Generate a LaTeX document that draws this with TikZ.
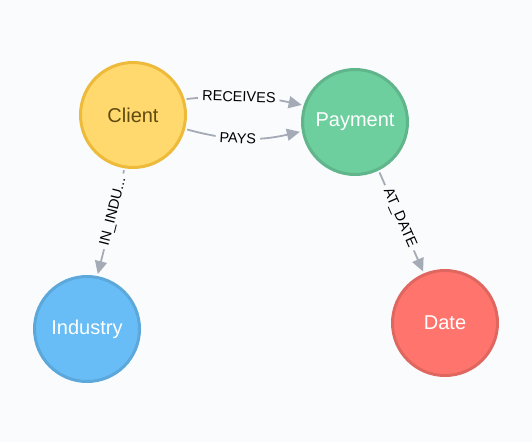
\documentclass[tikz,border=0pt]{standalone}
\usepackage{fontspec}
\setmainfont{Liberation Sans}
\usetikzlibrary{arrows.meta}

\definecolor{bgcol}{HTML}{F9FBFD}
\definecolor{edgecol}{HTML}{A5ABB6}
\definecolor{clientfill}{HTML}{FFD86E}
\definecolor{clientdraw}{HTML}{EDBA39}
\definecolor{clienttext}{HTML}{604A0E}
\definecolor{payfill}{HTML}{6DCE9E}
\definecolor{paydraw}{HTML}{60B58B}
\definecolor{indfill}{HTML}{68BDF6}
\definecolor{inddraw}{HTML}{5CA8DB}
\definecolor{datefill}{HTML}{FF756E}
\definecolor{datedraw}{HTML}{E06760}

\begin{document}
\begin{tikzpicture}[x=1pt, y=-1pt,
  entity/.style={circle, line width=3pt, minimum size=105pt, inner sep=0pt,
    text=white, font=\fontsize{20}{22}\selectfont},
  rel/.style={draw=edgecol, line width=1.8pt,
    -{Triangle[length=13pt, width=12pt]}, shorten <=2pt, shorten >=2pt},
  rellabel/.style={fill=bgcol, inner sep=4pt, text=black,
    font=\fontsize{14.5}{16}\selectfont}]

\fill [color=bgcol] (0,0) rectangle (532,442);
\useasboundingbox (0,0) rectangle (532,442);

\node [entity, fill=clientfill, draw=clientdraw, text=clienttext] (client) at (133,115) {Client};
\node [entity, fill=payfill, draw=paydraw] (payment) at (355,122) {Payment};
\node [entity, fill=indfill, draw=inddraw] (industry) at (87,329) {Industry};
\node [entity, fill=datefill, draw=datedraw] (date) at (445,323) {Date};

\draw [rel] (client.17) to [bend left=9] node [rellabel, pos=0.45, sloped] {RECEIVES} (payment.162);
\draw [rel] (client.-15) to [bend right=14] node [rellabel, pos=0.45, sloped] {PAYS} (payment.190);
\draw [rel] (client.-99) -- node [rellabel, pos=0.4, sloped] {IN\_INDU...} (industry.79);
\draw [rel] (payment.-64) -- node [rellabel, pos=0.46, sloped] {AT\_DATE} (date.113);

\end{tikzpicture}
\end{document}
